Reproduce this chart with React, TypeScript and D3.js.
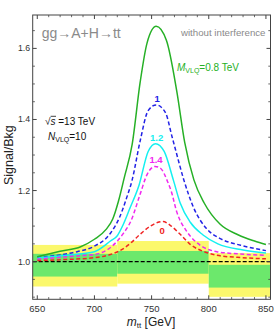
import React from "react";
import * as d3 from "d3";

// ---- data ----
const xMajorTicks = [650, 700, 750, 800, 850];
const yMajorTicks = [1.0, 1.2, 1.4, 1.6];

const binStart = [640, 720, 800];
const binEnd = [720, 800, 860];
const yellowLow = [0.93, 0.938, 0.901];
const yellowHigh = [1.047, 1.058, 1.024];
const greenLow = [0.958, 0.966, 0.927];
const greenHigh = [1.022, 1.03, 0.991];

const curveM08: [number, number][] = [
  [650, 1.014], [670, 1.029], [688, 1.042], [700, 1.063], [710, 1.09], [716, 1.12],
  [721, 1.17], [726, 1.235], [733, 1.33], [740, 1.505], [746, 1.615], [754, 1.662],
  [763, 1.622], [772, 1.48], [779, 1.335], [787, 1.23], [796, 1.165], [810, 1.105],
  [826, 1.075], [840, 1.058], [850, 1.048],
];
const curveM10: [number, number][] = [
  [650, 1.012], [670, 1.019], [685, 1.028], [699, 1.042], [714, 1.08], [722, 1.125],
  [728, 1.178], [733, 1.23], [740, 1.34], [747, 1.425], [754, 1.441], [762, 1.42],
  [768, 1.35], [771, 1.314], [778, 1.232], [787, 1.15], [798, 1.093], [810, 1.065],
  [828, 1.046], [850, 1.031],
];
const curveM12: [number, number][] = [
  [650, 1.01], [670, 1.016], [685, 1.021], [700, 1.028], [714, 1.058], [720, 1.073],
  [725, 1.103], [731, 1.15], [739, 1.215], [747, 1.31], [753.5, 1.332], [761, 1.31],
  [769, 1.23], [775, 1.165], [784, 1.11], [795, 1.075], [808, 1.05], [830, 1.033],
  [850, 1.024],
];
const curveM14: [number, number][] = [
  [650, 1.007], [670, 1.012], [685, 1.016], [700, 1.02], [716, 1.045], [725, 1.078],
  [732, 1.115], [740, 1.19], [746, 1.245], [753, 1.268], [758, 1.262], [764, 1.225],
  [767, 1.2], [772, 1.14], [781, 1.084], [793, 1.045], [807, 1.028], [825, 1.022],
  [850, 1.018],
];
const curveM0: [number, number][] = [
  [650, 1.003], [675, 1.006], [700, 1.011], [714, 1.02], [725, 1.036], [732, 1.053],
  [740, 1.077], [749, 1.1], [755, 1.11], [760, 1.113], [766, 1.103], [775, 1.077],
  [784, 1.048], [796, 1.028], [809, 1.017], [825, 1.012], [850, 1.008],
];

const seriesLabels = ["0.8", "1", "1.2", "1.4", "0"];

// ---- layout ----
const W = 274, H = 330;
const L = 32.7, R = 270.5, T = 15, B = 299.3;
const FONT = "'Liberation Sans', Arial, Helvetica, sans-serif";

export default function App() {
  const x = d3.scaleLinear().domain([646, 854]).range([L, R]);
  const y = d3.scaleLinear().domain([0.894, 1.694]).range([B, T]);
  const line = d3
    .line<[number, number]>()
    .x((d) => x(d[0]))
    .y((d) => y(d[1]))
    .curve(d3.curveMonotoneX);

  const xMinor = d3.range(650, 851, 10).filter((v) => v % 50 !== 0);
  const yMinor = d3.range(0.9, 1.69, 0.05).filter(
    (v) => !yMajorTicks.some((m) => Math.abs(m - v) < 1e-6)
  );

  const series = [
    { data: curveM10, color: "#2222e6", dash: "4,2.5", label: seriesLabels[1] },
    { data: curveM12, color: "#14f0f0", dash: null, label: seriesLabels[2] },
    { data: curveM14, color: "#f028f0", dash: "4,2.5", label: seriesLabels[3] },
    { data: curveM0, color: "#f02424", dash: "4,2.5", label: seriesLabels[4] },
    { data: curveM08, color: "#26b026", dash: null, label: seriesLabels[0] },
  ];

  const peak = (d: [number, number][]) => d.reduce((a, b) => (b[1] > a[1] ? b : a));
  const axisColor = "#444";

  return (
    <svg
      width={W}
      height={H}
      style={{ position: "absolute", left: 0, top: 0, background: "#fff" }}
      fontFamily={FONT}
    >
      <defs>
        <clipPath id="plot">
          <rect x={L} y={T} width={R - L} height={B - T} />
        </clipPath>
      </defs>
      <g clipPath="url(#plot)">
        {binStart.map((s, i) => (
          <g key={"b" + i}>
            <rect
              x={x(s)}
              width={x(binEnd[i]) - x(s)}
              y={y(yellowHigh[i])}
              height={y(yellowLow[i]) - y(yellowHigh[i])}
              fill="#fbf86c"
            />
            <rect
              x={x(s)}
              width={x(binEnd[i]) - x(s)}
              y={y(greenHigh[i])}
              height={y(greenLow[i]) - y(greenHigh[i])}
              fill="#6ce86c"
            />
          </g>
        ))}
        <line
          x1={L}
          x2={R}
          y1={y(1)}
          y2={y(1)}
          stroke="#000"
          strokeWidth={1.2}
          strokeDasharray="4,2"
        />
        {series.map((s, i) => (
          <path
            key={"c" + i}
            d={line(s.data) || ""}
            fill="none"
            stroke={s.color}
            strokeWidth={1.5}
            strokeDasharray={s.dash || undefined}
          />
        ))}
      </g>

      {/* frame */}
      <rect x={L} y={T} width={R - L} height={B - T} fill="none" stroke={axisColor} strokeWidth={1} />
      {xMajorTicks.map((v) => (
        <g key={"xt" + v}>
          <line x1={x(v)} x2={x(v)} y1={B} y2={B - 4} stroke={axisColor} />
          <line x1={x(v)} x2={x(v)} y1={T} y2={T + 4} stroke={axisColor} />
          <text x={x(v)} y={311.5} fontSize={9.5} textAnchor="middle" fill="#333">
            {v}
          </text>
        </g>
      ))}
      {xMinor.map((v) => (
        <g key={"xm" + v}>
          <line x1={x(v)} x2={x(v)} y1={B} y2={B - 2.2} stroke={axisColor} strokeWidth={0.8} />
          <line x1={x(v)} x2={x(v)} y1={T} y2={T + 2.2} stroke={axisColor} strokeWidth={0.8} />
        </g>
      ))}
      {yMajorTicks.map((v) => (
        <g key={"yt" + v}>
          <line x1={L} x2={L + 4} y1={y(v)} y2={y(v)} stroke={axisColor} />
          <line x1={R} x2={R - 4} y1={y(v)} y2={y(v)} stroke={axisColor} />
          <text x={L - 2.5} y={y(v) + 3} fontSize={8.8} textAnchor="end" fill="#333">
            {v.toFixed(1)}
          </text>
        </g>
      ))}
      {yMinor.map((v) => (
        <g key={"ym" + v.toFixed(2)}>
          <line x1={L} x2={L + 2.2} y1={y(v)} y2={y(v)} stroke={axisColor} strokeWidth={0.8} />
          <line x1={R} x2={R - 2.2} y1={y(v)} y2={y(v)} stroke={axisColor} strokeWidth={0.8} />
        </g>
      ))}

      {/* axis titles */}
      <text
        transform={`translate(12.5,${(T + B) / 2 - 2}) rotate(-90)`}
        fontSize={12.5}
        textAnchor="middle"
        fill="#222"
      >
        Signal/Bkg
      </text>
      <text x={151} y={325.5} fontSize={12} textAnchor="middle" fill="#222">
        <tspan fontStyle="italic">m</tspan>
        <tspan fontSize={8} dy={2.5}>tt</tspan>
        <tspan dy={-2.5}> [GeV]</tspan>
      </text>

      {/* annotations */}
      <text x={41.7} y={37.8} fontSize={14} fill="#8a8a8a">
        gg→A+H→tt
      </text>
      <text x={265.5} y={35.5} fontSize={9.7} textAnchor="end" fill="#8a8a8a">
        without interference
      </text>
      <text x={177} y={71} fontSize={10} fill="#26b026">
        <tspan fontStyle="italic">M</tspan>
        <tspan fontSize={7} dy={2}>VLQ</tspan>
        <tspan dy={-2}>=0.8 TeV</tspan>
      </text>
      <text x={45} y={125} fontSize={10} fill="#111">
        √<tspan fontStyle="italic">s</tspan> =13 TeV
      </text>
      <line x1={50.6} x2={56} y1={116.3} y2={116.3} stroke="#111" strokeWidth={0.8} />
      <text x={48} y={139.5} fontSize={10} fill="#111">
        <tspan fontStyle="italic">N</tspan>
        <tspan fontSize={7} dy={2}>VLQ</tspan>
        <tspan dy={-2}>=10</tspan>
      </text>

      {/* curve labels */}
      {series.slice(0, 4).map((s, i) => {
        const p = peak(s.data);
        const below = s.label === "0";
        return (
          <text
            key={"l" + i}
            x={x(p[0]) + (below ? -1 : 1)}
            y={below ? y(p[1]) + 13 : y(p[1]) - 3}
            fontSize={9.5}
            fontWeight="bold"
            textAnchor="middle"
            fill={s.color}
          >
            {s.label}
          </text>
        );
      })}
    </svg>
  );
}
